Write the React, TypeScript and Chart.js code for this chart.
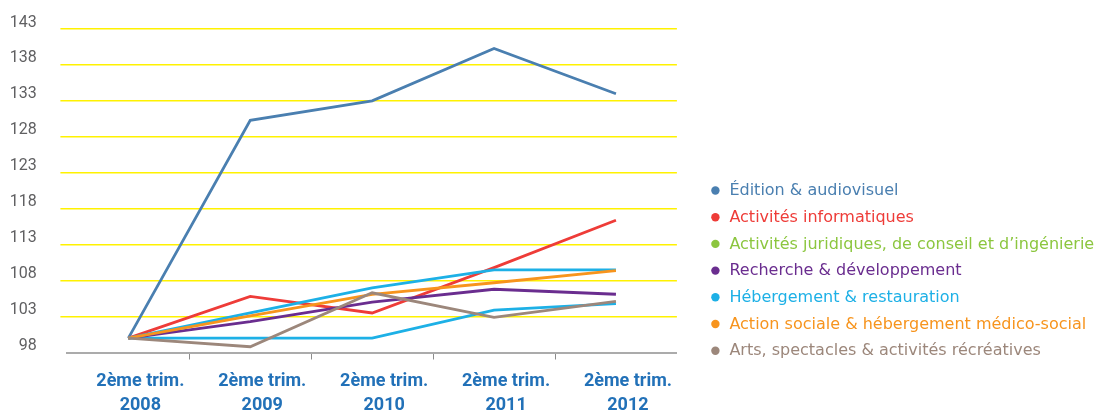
import { useEffect, useRef } from 'react';
import { Chart, registerables } from 'chart.js';

Chart.register(...registerables);

// Categories (x axis labels, two lines each)
const categories: string[][] = [
  ['2ème trim.', '2008'],
  ['2ème trim.', '2009'],
  ['2ème trim.', '2010'],
  ['2ème trim.', '2011'],
  ['2ème trim.', '2012'],
];

// Series names (legend)
const seriesNames: string[] = [
  'Édition & audiovisuel',
  'Activités informatiques',
  'Activités juridiques, de conseil et d\u2019ingénierie',
  'Recherche & développement',
  'Hébergement & restauration',
  'Action sociale & hébergement médico-social',
  'Arts, spectacles & activités récréatives',
];

// Series values (index, base 100)
const edition: number[] = [100, 130.3, 133.0, 140.3, 134.0];
const informatique: number[] = [100, 105.8, 103.5, 109.8, 116.4];
const juridique: number[] = [100, 100.0, 100.0, 103.9, 104.8];
const recherche: number[] = [100, 102.3, 105.0, 106.8, 106.1];
const hebergement: number[] = [100, 103.5, 107.0, 109.5, 109.5];
const actionSociale: number[] = [100, 103.1, 106.1, 107.7, 109.4];
const arts: number[] = [100, 98.8, 106.3, 102.9, 105.1];

// Y axis ticks
const yMin = 98;
const yMax = 143;
const yStep = 5;

// Colours
const lineColors: string[] = ['#4a7fb0', '#ee3c38', '#1db0e6', '#6a2d8f', '#1db0e6', '#f7941d', '#9c877b'];
const legendColors: string[] = ['#4a7fb0', '#ee3c38', '#8cc63f', '#6a2d8f', '#1db0e6', '#f7941d', '#9c877b'];

const seriesValues: number[][] = [edition, informatique, juridique, recherche, hebergement, actionSociale, arts];

// Legend drawn on the canvas at the right of the plot
const sideLegend = {
  id: 'sideLegend',
  afterDraw(chart: any) {
    const ctx = chart.ctx as CanvasRenderingContext2D;
    const area = chart.chartArea;
    const dotX = area.right + 38.5;
    const textX = dotX + 14;
    const firstY = 190.5;
    const step = 26.7;
    ctx.save();
    ctx.font = '16px "DejaVu Sans"';
    ctx.textBaseline = 'middle';
    ctx.textAlign = 'left';
    seriesNames.forEach((name, i) => {
      const y = firstY + i * step;
      ctx.fillStyle = legendColors[i];
      ctx.beginPath();
      ctx.arc(dotX, y, 4.2, 0, Math.PI * 2);
      ctx.fill();
      ctx.fillText(name, textX, y + 0.5);
    });
    ctx.restore();
  },
};

export default function App() {
  const ref = useRef<HTMLCanvasElement>(null);

  useEffect(() => {
    if (!ref.current) return;
    const chart = new Chart(ref.current, {
      type: 'line',
      data: {
        labels: categories,
        datasets: seriesNames.map((name, i) => ({
          label: name,
          data: seriesValues[i],
          borderColor: lineColors[i],
          backgroundColor: lineColors[i],
          borderWidth: 2.8,
          pointRadius: 0,
          pointHoverRadius: 0,
          tension: 0,
          fill: false,
          order: 6 - i,
        })),
      },
      options: {
        responsive: false,
        animation: false,
        layout: { padding: { top: 29, right: 422.1, bottom: 0, left: 0 } },
        plugins: {
          tooltip: { enabled: false },
          legend: { display: false },
        },
        scales: {
          x: {
            offset: true,
            grid: {
              offset: true,
              drawOnChartArea: false,
              drawTicks: true,
              tickLength: 7,
              lineWidth: 1,
              color: (c: any) => (c.type === 'tick' && c.index > 0 ? '#8c8c8c' : 'rgba(0,0,0,0)'),
            },
            border: { display: true, color: '#ababab', width: 2 },
            ticks: {
              color: '#2271b8',
              font: { family: 'Roboto', size: 18, weight: 'bold', lineHeight: 1.3 },
              padding: 10.5,
              labelOffset: 12,
              maxRotation: 0,
              autoSkip: false,
            },
            afterFit: (s: any) => {
              s.height = 59.5;
              s.paddingLeft = 0;
              s.paddingRight = 0;
            },
          },
          y: {
            min: yMin,
            max: yMax,
            ticks: {
              stepSize: yStep,
              color: '#606062',
              font: { family: 'Roboto', size: 16 },
              padding: 23.7,
              labelOffset: -6.5,
            },
            grid: {
              color: (c: any) => (c.tick && c.tick.value === yMin ? 'rgba(0,0,0,0)' : '#fff200'),
              lineWidth: 1.5,
              tickLength: 7,
              drawTicks: true,
            },
            border: { display: false },
            afterFit: (s: any) => {
              s.width = 67.4;
              s.paddingTop = 0;
              s.paddingBottom = 0;
            },
          },
        },
      },
      plugins: [sideLegend],
    } as any);
    return () => chart.destroy();
  }, []);

  return (
    <canvas
      ref={ref}
      width={1099}
      height={412}
      style={{ position: 'fixed', left: 0, top: 0, display: 'block', width: 1099, height: 412 }}
    />
  );
}
